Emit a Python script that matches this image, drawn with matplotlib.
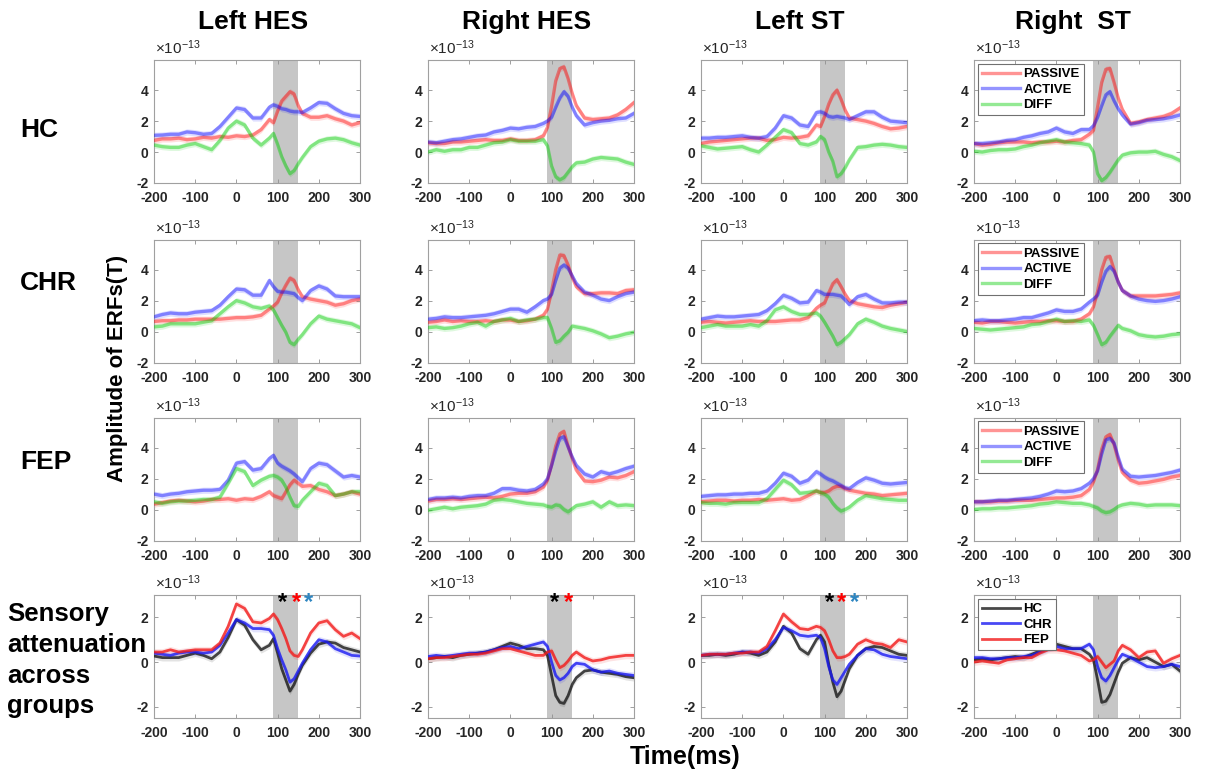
import numpy as np
import matplotlib.pyplot as plt

plt.rcParams["font.family"] = ["Liberation Sans", "DejaVu Sans"]
plt.rcParams["axes.unicode_minus"] = False
plt.rcParams["axes.linewidth"] = 0.8

# time axis (ms): 20 ms steps, 10 ms steps around the M100 window
time_ms = np.array([-200, -180, -160, -140, -120, -100, -80, -60, -40, -20, 0, 20, 40, 60,
                    80, 90, 100, 110, 120, 130, 140, 150, 160,
                    180, 200, 220, 240, 260, 280, 300])

regions = ["Left HES", "Right HES", "Left ST", "Right  ST"]
group_names = ["HC", "CHR", "FEP"]
cond_names = ["PASSIVE", "ACTIVE", "DIFF"]

# ERF amplitudes in units of 1e-13 T
hc_lhes_passive = [0.75, 0.85, 0.85, 0.9, 0.8, 0.85, 0.95, 0.9, 1.0, 0.95, 1.05, 1.0, 1.1, 1.45, 2.1, 1.9, 2.65, 3.3, 3.6, 3.9, 3.75, 3.0, 2.5, 2.25, 2.25, 2.35, 2.15, 2.0, 1.75, 1.9]
hc_lhes_active = [1.08, 1.1, 1.15, 1.15, 1.3, 1.25, 1.15, 1.2, 1.65, 2.25, 2.85, 2.75, 2.2, 2.2, 2.9, 3.05, 2.95, 2.8, 2.75, 2.65, 2.6, 2.6, 2.55, 2.85, 3.2, 3.15, 2.8, 2.5, 2.35, 2.3]
hc_lhes_diff = [0.45, 0.35, 0.3, 0.3, 0.45, 0.55, 0.35, 0.15, 0.75, 1.55, 2.0, 1.75, 0.9, 0.45, 0.9, 1.2, 0.5, -0.3, -0.9, -1.4, -1.2, -0.75, -0.35, 0.35, 0.7, 0.85, 0.9, 0.8, 0.6, 0.45]

hc_rhes_passive = [0.6, 0.55, 0.55, 0.65, 0.65, 0.7, 0.75, 0.8, 0.75, 0.75, 0.85, 0.75, 0.75, 0.8, 1.05, 1.6, 2.95, 4.6, 5.4, 5.5, 4.75, 3.8, 3.0, 2.2, 2.1, 2.15, 2.2, 2.4, 2.75, 3.2]
hc_rhes_active = [0.65, 0.6, 0.7, 0.8, 0.85, 0.95, 1.05, 1.1, 1.3, 1.4, 1.55, 1.5, 1.6, 1.65, 1.85, 2.0, 2.25, 2.9, 3.5, 3.9, 3.6, 2.9, 2.35, 1.75, 1.9, 2.0, 2.05, 2.15, 2.2, 2.5]
hc_rhes_diff = [0.0, 0.15, 0.05, 0.15, 0.15, 0.3, 0.3, 0.45, 0.6, 0.65, 0.8, 0.7, 0.7, 0.7, 0.8, 0.4, -0.9, -1.6, -1.8, -1.65, -1.3, -0.95, -0.7, -0.65, -0.45, -0.35, -0.4, -0.45, -0.65, -0.8]

hc_lst_passive = [0.55, 0.65, 0.7, 0.75, 0.8, 0.85, 0.9, 0.9, 0.75, 0.8, 0.95, 0.9, 0.95, 1.05, 1.75, 1.65, 2.3, 3.1, 3.7, 4.0, 3.4, 2.7, 2.2, 2.1, 2.0, 1.85, 1.65, 1.5, 1.55, 1.65]
hc_lst_active = [0.9, 0.9, 0.95, 0.95, 1.0, 1.05, 0.95, 0.9, 1.0, 1.55, 2.35, 2.2, 1.75, 1.65, 2.55, 2.6, 2.5, 2.3, 2.25, 2.3, 2.25, 2.2, 2.1, 2.35, 2.6, 2.6, 2.25, 2.0, 1.95, 1.9]
hc_lst_diff = [0.4, 0.3, 0.2, 0.25, 0.3, 0.35, 0.15, 0.0, 0.45, 0.95, 1.45, 1.25, 0.55, 0.45, 0.65, 1.0, 0.8, 0.0, -0.6, -1.6, -1.4, -1.0, -0.5, 0.3, 0.35, 0.45, 0.5, 0.45, 0.35, 0.3]

hc_rst_passive = [0.55, 0.45, 0.5, 0.6, 0.65, 0.65, 0.65, 0.6, 0.65, 0.65, 0.7, 0.65, 0.75, 0.8, 1.15, 1.4, 2.9, 4.5, 5.35, 5.4, 4.5, 3.5, 2.75, 1.85, 1.95, 2.1, 2.2, 2.3, 2.5, 2.85]
hc_rst_active = [0.55, 0.55, 0.6, 0.65, 0.75, 0.8, 0.95, 1.05, 1.2, 1.3, 1.55, 1.3, 1.2, 1.45, 1.45, 1.7, 2.25, 3.0, 3.7, 3.9, 3.3, 2.8, 2.4, 1.8, 1.9, 2.05, 2.1, 2.15, 2.25, 2.4]
hc_rst_diff = [0.05, 0.0, 0.1, 0.15, 0.15, 0.2, 0.35, 0.45, 0.6, 0.7, 0.8, 0.65, 0.6, 0.55, 0.45, 0.0, -1.4, -1.85, -1.65, -1.3, -0.9, -0.5, -0.2, -0.05, 0.0, 0.0, 0.05, -0.15, -0.3, -0.55]

chr_lhes_passive = [0.65, 0.7, 0.7, 0.75, 0.75, 0.8, 0.8, 0.8, 0.8, 0.85, 0.9, 0.9, 0.95, 1.05, 1.45, 1.65, 1.9, 2.5, 3.0, 3.45, 3.3, 2.7, 2.25, 2.1, 2.0, 1.9, 1.7, 1.8, 2.0, 2.1]
chr_lhes_active = [0.95, 1.1, 1.2, 1.15, 1.15, 1.25, 1.3, 1.35, 1.7, 2.25, 2.75, 2.7, 2.35, 2.35, 3.3, 2.9, 2.6, 2.55, 2.55, 2.5, 2.45, 2.2, 2.0, 2.65, 2.95, 2.75, 2.3, 2.25, 2.25, 2.25]
chr_lhes_diff = [0.3, 0.35, 0.5, 0.5, 0.5, 0.5, 0.6, 0.7, 1.15, 1.6, 2.0, 1.85, 1.6, 1.5, 1.65, 1.4, 0.9, 0.4, -0.05, -0.7, -0.85, -0.5, -0.2, 0.5, 1.0, 0.8, 0.7, 0.6, 0.5, 0.25]

chr_rhes_passive = [0.6, 0.65, 0.75, 0.65, 0.7, 0.65, 0.65, 0.7, 0.65, 0.75, 0.75, 0.65, 0.7, 0.8, 1.05, 1.45, 2.6, 4.0, 4.95, 4.9, 4.3, 3.5, 2.9, 2.45, 2.45, 2.5, 2.5, 2.45, 2.65, 2.7]
chr_rhes_active = [0.8, 0.85, 0.95, 0.9, 0.9, 0.95, 1.0, 1.05, 1.15, 1.3, 1.45, 1.45, 1.25, 1.6, 2.0, 2.1, 2.4, 3.3, 4.1, 4.3, 4.1, 3.6, 3.1, 2.55, 2.35, 2.1, 2.0, 2.25, 2.45, 2.55]
chr_rhes_diff = [0.25, 0.3, 0.2, 0.25, 0.35, 0.5, 0.6, 0.35, 0.65, 0.75, 0.85, 0.65, 0.75, 0.8, 0.9, 0.9, 0.2, -0.7, -0.6, -0.3, -0.05, 0.35, 0.3, 0.2, 0.05, -0.15, -0.4, -0.3, -0.15, -0.05]

chr_lst_passive = [0.6, 0.65, 0.6, 0.55, 0.6, 0.65, 0.7, 0.65, 0.65, 0.65, 0.7, 0.75, 0.75, 0.9, 1.5, 1.7, 1.85, 2.5, 3.1, 3.35, 2.9, 2.4, 2.0, 1.8, 1.7, 1.6, 1.55, 1.7, 1.8, 1.9]
chr_lst_active = [0.8, 0.9, 1.0, 0.95, 0.95, 1.0, 1.05, 1.1, 1.35, 1.8, 2.35, 2.15, 1.85, 1.9, 2.65, 2.55, 2.4, 2.4, 2.4, 2.35, 2.3, 2.05, 1.75, 2.25, 2.4, 2.1, 1.85, 1.85, 1.9, 1.9]
chr_lst_diff = [0.25, 0.35, 0.45, 0.35, 0.35, 0.35, 0.45, 0.35, 0.7, 1.4, 1.6, 1.3, 1.1, 1.1, 1.2, 1.0, 0.6, 0.15, -0.3, -0.85, -0.7, -0.45, -0.2, 0.5, 0.8, 0.6, 0.35, 0.2, 0.1, 0.0]

chr_rst_passive = [0.6, 0.55, 0.65, 0.65, 0.6, 0.55, 0.6, 0.65, 0.65, 0.7, 0.7, 0.65, 0.65, 0.8, 1.15, 1.6, 2.6, 4.0, 4.8, 4.85, 4.0, 3.2, 2.65, 2.3, 2.3, 2.3, 2.3, 2.35, 2.4, 2.5]
chr_rst_active = [0.7, 0.75, 0.7, 0.7, 0.75, 0.8, 0.9, 0.9, 1.05, 1.2, 1.4, 1.3, 1.3, 1.45, 1.9, 2.1, 2.35, 3.2, 3.9, 4.2, 3.9, 3.2, 2.65, 2.3, 2.1, 2.0, 1.95, 2.0, 2.1, 2.25]
chr_rst_diff = [0.2, 0.15, 0.1, 0.15, 0.2, 0.25, 0.3, 0.45, 0.5, 0.65, 0.8, 0.65, 0.7, 0.65, 0.75, 0.4, -0.2, -0.85, -0.7, -0.3, 0.05, 0.4, 0.2, 0.05, -0.2, -0.3, -0.35, -0.3, -0.2, -0.15]

fep_lhes_passive = [0.35, 0.45, 0.55, 0.6, 0.55, 0.5, 0.55, 0.65, 0.65, 0.7, 0.6, 0.7, 0.65, 0.85, 1.15, 0.9, 0.8, 0.7, 1.15, 1.6, 1.9, 1.7, 1.5, 1.55, 1.3, 1.15, 0.9, 1.0, 1.15, 1.0]
fep_lhes_active = [1.0, 0.9, 1.0, 1.05, 1.15, 1.2, 1.25, 1.25, 1.3, 1.9, 3.0, 3.1, 2.55, 2.65, 3.3, 3.5, 3.0, 2.8, 2.65, 2.5, 2.3, 2.05, 1.8, 2.65, 3.0, 2.9, 2.5, 2.1, 2.2, 2.1]
fep_lhes_diff = [0.5, 0.4, 0.5, 0.55, 0.55, 0.6, 0.65, 0.65, 0.8, 1.7, 2.65, 2.45, 1.55, 1.9, 2.15, 2.2, 2.1, 1.9, 1.45, 0.8, 0.25, 0.2, 0.6, 1.15, 1.7, 1.55, 0.9, 1.0, 1.15, 1.15]

fep_rhes_passive = [0.55, 0.65, 0.65, 0.7, 0.65, 0.7, 0.75, 0.8, 0.75, 0.85, 1.0, 1.05, 1.05, 1.15, 1.45, 1.9, 2.9, 4.1, 4.9, 5.05, 4.1, 3.3, 2.55, 1.85, 1.8, 1.9, 2.1, 2.05, 2.2, 2.45]
fep_rhes_active = [0.65, 0.75, 0.75, 0.8, 0.75, 0.85, 0.9, 0.9, 1.05, 1.35, 1.35, 1.25, 1.2, 1.3, 1.65, 2.0, 2.85, 3.8, 4.6, 4.7, 4.05, 3.4, 2.85, 2.3, 2.1, 2.45, 2.3, 2.45, 2.65, 2.8]
fep_rhes_diff = [-0.05, 0.05, 0.15, 0.05, 0.15, 0.2, 0.25, 0.35, 0.6, 0.65, 0.6, 0.5, 0.4, 0.35, 0.3, 0.2, 0.15, 0.3, 0.25, 0.0, -0.15, 0.05, 0.25, 0.35, 0.5, 0.15, 0.5, 0.25, 0.3, 0.25]

fep_lst_passive = [0.5, 0.55, 0.6, 0.6, 0.55, 0.6, 0.6, 0.65, 0.6, 0.65, 0.7, 0.6, 0.65, 0.9, 1.2, 1.1, 1.1, 1.2, 1.4, 1.5, 1.5, 1.35, 1.25, 1.15, 1.05, 1.0, 0.9, 0.95, 1.0, 1.05]
fep_lst_active = [0.85, 0.9, 0.95, 0.95, 1.0, 1.0, 1.05, 1.05, 1.2, 1.7, 2.35, 2.15, 1.7, 1.9, 2.45, 2.3, 2.1, 1.95, 1.85, 1.7, 1.55, 1.4, 1.35, 1.75, 2.05, 1.9, 1.7, 1.65, 1.7, 1.75]
fep_lst_diff = [0.45, 0.4, 0.4, 0.35, 0.45, 0.45, 0.45, 0.45, 0.7, 1.3, 1.9, 1.6, 1.05, 1.1, 1.2, 1.1, 1.0, 0.8, 0.4, 0.1, -0.1, 0.0, 0.15, 0.6, 0.9, 0.8, 0.7, 0.65, 0.6, 0.6]

fep_rst_passive = [0.5, 0.5, 0.5, 0.55, 0.55, 0.6, 0.6, 0.6, 0.65, 0.7, 0.75, 0.75, 0.8, 0.9, 1.3, 1.8, 2.6, 3.9, 4.7, 4.85, 4.2, 3.2, 2.4, 1.9, 1.7, 1.75, 1.85, 1.95, 2.1, 2.2]
fep_rst_active = [0.5, 0.5, 0.55, 0.6, 0.6, 0.65, 0.7, 0.75, 0.85, 1.0, 1.2, 1.15, 1.2, 1.35, 1.7, 2.0, 2.5, 3.6, 4.5, 4.6, 4.3, 3.4, 2.6, 2.15, 2.1, 2.15, 2.2, 2.3, 2.4, 2.55]
fep_rst_diff = [0.0, 0.05, 0.05, 0.1, 0.1, 0.15, 0.2, 0.25, 0.35, 0.4, 0.5, 0.45, 0.4, 0.4, 0.3, 0.2, 0.1, -0.1, -0.2, -0.15, 0.0, 0.2, 0.3, 0.4, 0.35, 0.25, 0.3, 0.3, 0.3, 0.25]

# sensory attenuation (DIFF) per group
att_lhes_hc = [0.27, 0.2, 0.2, 0.2, 0.3, 0.4, 0.3, 0.15, 0.45, 1.1, 1.9, 1.65, 1.0, 0.55, 0.75, 1.05, 0.4, -0.3, -0.8, -1.3, -1.0, -0.55, -0.15, 0.4, 0.8, 0.9, 0.85, 0.65, 0.55, 0.45]
att_lhes_chr = [0.4, 0.35, 0.3, 0.4, 0.45, 0.45, 0.4, 0.45, 0.75, 1.3, 1.9, 1.75, 1.5, 1.5, 1.45, 1.2, 0.6, 0.1, -0.35, -0.9, -0.75, -0.4, -0.05, 0.55, 1.0, 0.9, 0.6, 0.45, 0.3, 0.27]
att_lhes_fep = [0.45, 0.45, 0.55, 0.45, 0.5, 0.55, 0.55, 0.55, 0.85, 1.6, 2.6, 2.4, 1.8, 1.75, 1.95, 2.15, 1.9, 1.5, 1.05, 0.5, 0.3, 0.25, 0.55, 1.3, 1.75, 1.85, 1.45, 1.15, 1.3, 1.05]

att_rhes_hc = [0.15, 0.2, 0.25, 0.2, 0.3, 0.35, 0.4, 0.45, 0.55, 0.7, 0.85, 0.75, 0.6, 0.6, 0.55, 0.3, -0.6, -1.5, -1.8, -1.85, -1.5, -1.0, -0.7, -0.4, -0.35, -0.45, -0.5, -0.55, -0.65, -0.7]
att_rhes_chr = [0.25, 0.3, 0.25, 0.3, 0.35, 0.4, 0.4, 0.45, 0.55, 0.65, 0.7, 0.6, 0.7, 0.8, 0.9, 0.7, 0.0, -0.6, -0.8, -0.7, -0.5, -0.2, -0.05, -0.1, -0.35, -0.45, -0.4, -0.5, -0.55, -0.6]
att_rhes_fep = [0.15, 0.2, 0.2, 0.25, 0.3, 0.35, 0.35, 0.4, 0.5, 0.6, 0.6, 0.5, 0.4, 0.3, 0.3, 0.45, 0.5, 0.1, -0.25, -0.15, 0.05, 0.3, 0.45, 0.2, 0.05, 0.1, 0.2, 0.25, 0.3, 0.3]

att_lst_hc = [0.3, 0.3, 0.35, 0.3, 0.35, 0.45, 0.4, 0.3, 0.45, 0.9, 1.6, 1.3, 0.6, 0.35, 1.0, 1.2, 0.9, -0.1, -0.9, -1.55, -1.3, -0.8, -0.3, 0.3, 0.6, 0.7, 0.65, 0.5, 0.35, 0.3]
att_lst_chr = [0.3, 0.35, 0.35, 0.35, 0.4, 0.45, 0.45, 0.4, 0.6, 1.0, 1.55, 1.4, 1.2, 1.15, 1.2, 1.1, 0.6, -0.2, -0.8, -1.0, -0.7, -0.4, -0.1, 0.3, 0.6, 0.55, 0.35, 0.25, 0.2, 0.15]
att_lst_fep = [0.3, 0.35, 0.35, 0.35, 0.4, 0.4, 0.45, 0.45, 0.7, 1.4, 2.15, 1.8, 1.5, 1.45, 1.6, 1.55, 1.4, 1.0, 0.5, 0.2, 0.2, 0.25, 0.35, 0.8, 1.0, 0.85, 0.8, 0.65, 1.0, 0.9]

att_rst_hc = [0.1, 0.15, 0.1, 0.15, 0.2, 0.25, 0.2, 0.35, 0.5, 0.65, 0.8, 0.7, 0.6, 0.6, 0.35, 0.1, -0.8, -1.8, -1.75, -1.45, -0.95, -0.45, -0.05, 0.2, 0.1, 0.2, 0.0, -0.2, -0.1, -0.4]
att_rst_chr = [0.2, 0.2, 0.15, 0.15, 0.2, 0.2, 0.25, 0.3, 0.45, 0.6, 0.7, 0.6, 0.6, 0.6, 0.8, 0.55, -0.2, -0.7, -0.85, -0.6, -0.25, 0.1, 0.35, 0.2, 0.0, -0.2, -0.25, -0.2, -0.1, -0.2]
att_rst_fep = [0.0, 0.05, 0.0, -0.05, 0.1, 0.15, 0.2, 0.2, 0.4, 0.55, 0.55, 0.5, 0.4, 0.3, 0.05, 0.1, 0.25, 0.0, -0.25, -0.1, 0.05, 0.5, 0.75, 0.55, 0.2, 0.45, 0.5, -0.05, 0.15, 0.3]

# half-width of the shaded error bands
cond_err = 0.2
group_err = 0.15

# significant group differences in the attenuation window
star_times = [[113, 145, 176], [108, 140], [111, 142, 173], []]
star_colors = ["black", "red", "#2e86c1"]
star_level = 2.65

window = (90, 150)

cond_data = [
    [[hc_lhes_passive, hc_lhes_active, hc_lhes_diff],
     [hc_rhes_passive, hc_rhes_active, hc_rhes_diff],
     [hc_lst_passive, hc_lst_active, hc_lst_diff],
     [hc_rst_passive, hc_rst_active, hc_rst_diff]],
    [[chr_lhes_passive, chr_lhes_active, chr_lhes_diff],
     [chr_rhes_passive, chr_rhes_active, chr_rhes_diff],
     [chr_lst_passive, chr_lst_active, chr_lst_diff],
     [chr_rst_passive, chr_rst_active, chr_rst_diff]],
    [[fep_lhes_passive, fep_lhes_active, fep_lhes_diff],
     [fep_rhes_passive, fep_rhes_active, fep_rhes_diff],
     [fep_lst_passive, fep_lst_active, fep_lst_diff],
     [fep_rst_passive, fep_rst_active, fep_rst_diff]],
]
att_data = [
    [att_lhes_hc, att_lhes_chr, att_lhes_fep],
    [att_rhes_hc, att_rhes_chr, att_rhes_fep],
    [att_lst_hc, att_lst_chr, att_lst_fep],
    [att_rst_hc, att_rst_chr, att_rst_fep],
]

cond_colors = [(1, 0, 0), (0, 0, 1), (0, 0.8, 0)]
group_colors = [(0.1, 0.1, 0.1), (0.1, 0.1, 0.95), (0.95, 0.1, 0.1)]

W, H = 1206, 772
fig = plt.figure(figsize=(W / 100, H / 100), dpi=100)

col_left = [154, 428, 701, 974]
row_top = [60, 239.5, 417.5, 595]
ax_w, ax_h = 206, 123


def style_axes(ax, ylim, yticks):
    ax.set_xlim(-200, 300)
    ax.set_ylim(*ylim)
    ax.set_xticks([-200, -100, 0, 100, 200, 300])
    ax.set_yticks(yticks)
    ax.tick_params(direction="in", length=3, width=0.6, color="#909090",
                   top=True, right=True, labelsize=10, labelcolor="#262626", pad=4)
    ax.tick_params(axis="x", pad=6)
    for lab in ax.get_xticklabels() + ax.get_yticklabels():
        lab.set_fontweight("bold")
    for sp in ax.spines.values():
        sp.set_color("#a0a0a0")
    ax.axvspan(*window, color="#c6c6c6", lw=0, zorder=0)
    ax.annotate(r"$\mathregular{\times10^{-13}}$", xy=(0, 1), xycoords="axes fraction",
                xytext=(1, 2), textcoords="offset points", ha="left", va="bottom",
                fontsize=11, color="#262626")


def add_legend(ax, handles, labels):
    leg = ax.legend(handles, labels, loc="upper left", prop={"size": 9.5, "weight": "bold"},
                    handlelength=2.9, handletextpad=0.25, labelspacing=0.25,
                    borderaxespad=0.3, borderpad=0.3, fancybox=False,
                    framealpha=1, edgecolor="#707070")
    leg.get_frame().set_linewidth(0.8)


for r in range(4):
    for c in range(4):
        ax = fig.add_axes([col_left[c] / W, 1 - (row_top[r] + ax_h) / H, ax_w / W, ax_h / H])
        handles = []
        if r < 3:
            style_axes(ax, (-2, 5.95), [-2, 0, 2, 4])
            for k in range(3):
                y = np.array(cond_data[r][c][k])
                ax.fill_between(time_ms, y - cond_err, y + cond_err, color=cond_colors[k],
                                alpha=0.13, lw=0, zorder=2)
                ln, = ax.plot(time_ms, y, color=cond_colors[k], alpha=0.42, lw=2.4, zorder=3)
                handles.append(ln)
            if c == 3:
                add_legend(ax, handles, cond_names)
        else:
            style_axes(ax, (-2.5, 3), [-2, 0, 2])
            for k in range(3):
                y = np.array(att_data[c][k])
                ax.fill_between(time_ms, y - group_err, y + group_err, color=group_colors[k],
                                alpha=0.12, lw=0, zorder=2)
                ln, = ax.plot(time_ms, y, color=group_colors[k], alpha=0.8, lw=2.0, zorder=3)
                handles.append(ln)
            for t, col in zip(star_times[c], star_colors):
                ax.text(t, star_level, "*", color=col, fontsize=17, fontweight="bold",
                        ha="center", va="center", zorder=5)
            if c == 3:
                add_legend(ax, handles, group_names)

# column titles
for c, name in enumerate(regions):
    fig.text((col_left[c] + ax_w / 2 - 4) / W, 1 - 22 / H, name, ha="center", va="center",
             fontsize=19, fontweight="bold")

# row labels
row_label_y = [130, 283, 462]
for name, yy in zip(group_names, row_label_y):
    fig.text(20 / W, 1 - yy / H, name, ha="left", va="center", fontsize=19, fontweight="bold")
sensory_lines = ["Sensory", "attenuation", "across", "groups"]
sensory_y = [614, 645, 676, 706]
for line, yy in zip(sensory_lines, sensory_y):
    fig.text(7 / W, 1 - yy / H, line, ha="left", va="center", fontsize=18.5,
             fontweight="bold")

fig.text(117 / W, 1 - 368 / H, "Amplitude of ERFs(T)", rotation=90, ha="center", va="center",
         fontsize=16, fontweight="bold")
fig.text(685 / W, 1 - 757 / H, "Time(ms)", ha="center", va="center", fontsize=18,
         fontweight="bold")

fig.savefig("out.png", dpi=100)
